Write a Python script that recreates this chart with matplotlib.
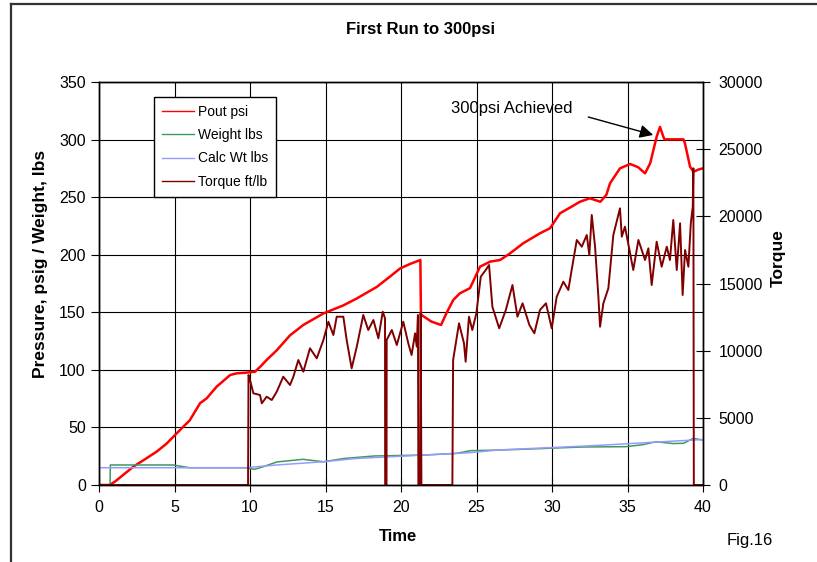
import numpy as np
import matplotlib.pyplot as plt
from matplotlib.lines import Line2D

plt.rcParams['font.family'] = ['Liberation Sans', 'DejaVu Sans']

# Pout psi (time, psi)
t_pout = [0, 0.7, 1.06, 2.27, 3.0, 3.82, 4.48, 5.0, 5.58, 6.0, 6.69, 7.13, 7.79,
          8.68, 9.12, 9.7, 10.33, 10.7, 11.1, 11.77, 12.65, 13.53, 14.86, 16.18,
          17.07, 18.39, 19.27, 19.93, 20.6, 21.28, 21.32, 22.0, 22.65, 23.0, 23.46,
          23.9, 24.57, 25.23, 25.9, 26.56, 27.2, 28.1, 29.2, 29.87, 30.53, 31.2,
          31.85, 32.5, 33.2, 33.6, 33.84, 34.5, 35.17, 35.7, 36.16, 36.5, 36.93,
          37.15, 37.37, 37.45, 38.7, 38.8, 39.14, 39.36, 39.7, 40.0]
pout = [0, 0, 3, 15.9, 22, 29, 36, 43, 50.6, 56, 71, 75.3, 85.4,
        95.5, 97, 97.5, 98.4, 103, 108.6, 117, 130, 139, 149, 156,
        162, 172, 181, 188, 192, 195.4, 148, 142, 139, 149, 160.7,
        166.5, 171, 189.6, 194, 195.4, 201, 210, 218.6, 223, 236, 241,
        246, 249, 246, 252, 262, 275, 278.8, 276, 270.7, 279.4, 302.5,
        311, 302.5, 300.2, 300.2, 296.8, 276.5, 272, 274, 275]

# Weight lbs
t_wt = [0, 0.73, 0.75, 4.9, 6.0, 9.7, 10.3, 10.9, 11.77, 13.5, 14.86, 16.2, 18.2,
        21.5, 23.7, 24.57, 26.6, 28.0, 30.0, 32.0, 34.9, 36.0, 36.9, 38.0, 38.7,
        39.36, 40.0]
weight = [0, 0, 17.4, 17.4, 15, 15, 13.6, 16, 20, 22.3, 20.2, 23, 25.2,
          26, 27.5, 29.8, 30.4, 31, 32, 33, 33.3, 35, 37.6, 36, 36.2,
          40.5, 39]

# Calc Wt lbs
t_calc = [0, 9.7, 11.77, 14.86, 17.0, 20.0, 24.5, 26.5, 30.0, 33.2, 36.5, 40.0]
calc_wt = [15, 15, 17.4, 20.2, 23, 25, 28, 30.5, 32.5, 34.5, 37, 39.5]

# Torque ft/lb
t_torq = [0, 9.87, 9.9, 10.0, 10.22, 10.66, 10.78, 11.1, 11.44, 11.77, 12.2, 12.65,
          12.87, 13.2, 13.53, 13.97, 14.42, 14.86, 15.19, 15.52, 15.74, 16.18, 16.4,
          16.73, 17.07, 17.5, 17.83, 18.17, 18.5, 18.79, 18.94, 18.95, 19.04, 19.05,
          19.39, 19.72, 20.15, 20.48, 20.7, 20.93, 21.04, 21.12, 21.15, 21.27, 21.3,
          21.35, 23.4, 23.45, 23.84, 24.17, 24.28, 24.5, 24.72, 24.99, 25.28, 25.61,
          25.83, 26.05, 26.5, 26.94, 27.38, 27.71, 28.05, 28.5, 28.83, 29.2, 29.6,
          29.98, 30.31, 30.75, 31.08, 31.3, 31.64, 31.97, 32.3, 32.47, 32.63, 32.85,
          33.07, 33.18, 33.4, 33.73, 34.06, 34.5, 34.62, 34.83, 35.17, 35.38, 35.72,
          36.16, 36.38, 36.6, 36.93, 37.26, 37.6, 37.81, 38.03, 38.26, 38.48, 38.65,
          38.81, 39.03, 39.19, 39.32, 39.36, 39.39, 40.0]
torque = [0, 0, 8190, 7816, 6826, 6700, 6082, 6573, 6327, 6945, 8062, 7444,
          8062, 9305, 8434, 10176, 9430, 10794, 12156, 11166, 12528, 12528, 10794,
          8687, 10295, 12655, 11538, 12283, 10920, 12900, 12400, 0, 0, 10794,
          11538, 10422, 12156, 10548, 9677, 11293, 10300, 12655, 0, 0, 12780,
          0, 0, 9305, 12037, 10548, 9178, 12528, 11538, 12780, 15506, 16005,
          16377, 13273, 11665, 13027, 14888, 12528, 13526, 11910, 11293, 13027, 13526,
          11665, 14017, 15134, 14516, 16005, 18238, 17739, 18610, 17121, 20100, 17739,
          14017, 11784, 13526, 14640, 18610, 20597, 18485, 19228, 17248, 16005, 18238,
          16749, 17619, 14888, 18112, 16250, 17739, 16749, 19726, 16005, 19482, 14144,
          17493, 16250, 19482, 20717, 23577, 0, 0]

fig = plt.figure(figsize=(8.17, 5.62), dpi=100)
ax = fig.add_axes([0.1212, 0.137, 0.7393, 0.7171])
ax2 = ax.twinx()

l1, = ax.plot(t_pout, pout, color='#ff0000', lw=1.8, label='Pout psi')
l2, = ax.plot(t_wt, weight, color='#3c9a5f', lw=1.1, label='Weight lbs')
l3, = ax.plot(t_calc, calc_wt, color='#9999ff', lw=1.1, label='Calc Wt lbs')
l4, = ax2.plot(t_torq, torque, color='#800000', lw=1.4, label='Torque ft/lb')

ax.set_xlim(0, 40)
ax.set_ylim(0, 350)
ax2.set_ylim(0, 30000)
ax.set_xticks(np.arange(0, 41, 5))
ax.set_yticks(np.arange(0, 351, 50))
ax2.set_yticks(np.arange(0, 30001, 5000))
ax.grid(True, color='black', lw=0.8)

ax.tick_params(axis='both', direction='out', length=6, width=0.8,
               labelsize=11.5, colors='black')
ax.tick_params(axis='x', direction='inout', length=10, pad=6)
ax2.tick_params(axis='y', direction='inout', length=10, width=0.8,
                labelsize=11.5, pad=6)
for a in (ax, ax2):
    for s in a.spines.values():
        s.set_linewidth(1.0)
        s.set_color('black')

leg = ax2.legend(handles=[l1, l2, l3, l4], loc='upper left',
                 bbox_to_anchor=(0.091, 0.963), borderaxespad=0, fontsize=10,
                 frameon=True, fancybox=False, edgecolor='black', framealpha=1,
                 handlelength=2.3, labelspacing=0.68, borderpad=0.55,
                 handletextpad=0.35)
leg.get_frame().set_linewidth(1.0)
for h in leg.get_lines():
    h.set_linewidth(1.0)

# annotation text and arrow
ax.text(27.35, 327, '300psi Achieved', ha='center', va='center', fontsize=12)
ax.annotate('', xy=(36.7, 304), xytext=(32.4, 319.6),
            arrowprops=dict(arrowstyle='-|>', mutation_scale=20, color='black',
                            lw=1.0, shrinkA=0, shrinkB=0))

fig.text(0.515, 0.947, 'First Run to 300psi', ha='center', va='center',
         fontsize=12, fontweight='bold')
fig.text(0.487, 0.045, 'Time', ha='center', va='center', fontsize=12,
         fontweight='bold')
fig.text(0.049, 0.53, 'Pressure, psig / Weight, lbs', ha='center', va='center',
         rotation=90, fontsize=12.5, fontweight='bold')
fig.text(0.952, 0.54, 'Torque', ha='center', va='center', rotation=90,
         fontsize=12.5, fontweight='bold')
fig.text(0.918, 0.039, 'Fig.16', ha='center', va='center', fontsize=12)

# outer chart frame (top and left edges visible)
fig.add_artist(Line2D([11 / 817, 1.0], [1 - 4 / 562, 1 - 4 / 562],
                      transform=fig.transFigure, color='#333333', lw=1.6))
fig.add_artist(Line2D([11 / 817, 11 / 817], [0, 1 - 4 / 562],
                      transform=fig.transFigure, color='#333333', lw=1.6))

fig.savefig('out.png', dpi=100)
